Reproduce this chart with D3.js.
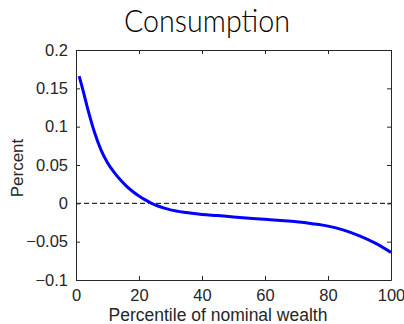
<!DOCTYPE html>
<html>
<head>
<meta charset="utf-8">
<script src="https://cdn.jsdelivr.net/npm/d3@7"></script>
<style>
  body { margin: 0; background: #fff; }
  svg text { fill: #262626; }
</style>
</head>
<body>
<svg id="chart" width="404" height="324"></svg>
<script>
var width = 404;
var height = 324;

// percentile of nominal wealth vs consumption response (percent)
var percentile = [1, 2, 4, 6, 8, 10, 12, 14, 16, 18, 20, 22, 24, 26, 28, 30,
  35, 40, 45, 50, 55, 60, 65, 70, 75, 80, 85, 90, 95, 100];
var consumption = [0.166, 0.151, 0.119, 0.091, 0.069, 0.053, 0.041, 0.031, 0.0225, 0.0155,
  0.0095, 0.0045, 0.0, -0.0035, -0.0063, -0.0085,
  -0.012, -0.0145, -0.016, -0.0177, -0.0193, -0.0208, -0.0223, -0.024, -0.0265,
  -0.0297, -0.035, -0.0425, -0.052, -0.064];

var xTicks = [0, 20, 40, 60, 80, 100];
var yTicks = [-0.1, -0.05, 0, 0.05, 0.1, 0.15, 0.2];

var margin = {left: 76, right: 13, top: 50, bottom: 44};

var svg = d3.select("#chart");

var x = d3.scaleLinear()
  .domain([0, 100])
  .range([margin.left, width - margin.right]);

var y = d3.scaleLinear()
  .domain([-0.1, 0.2])
  .range([height - margin.bottom, margin.top]);

var axisColor = "#262626";

// zero line
svg.append("line")
  .attr("x1", x(0)).attr("x2", x(100))
  .attr("y1", y(0)).attr("y2", y(0))
  .attr("stroke", "#000")
  .attr("stroke-width", 1)
  .attr("stroke-dasharray", "5,3");

// curve
var line = d3.line()
  .x(function(d, i) { return x(percentile[i]); })
  .y(function(d) { return y(d); })
  .curve(d3.curveMonotoneX);

svg.append("path")
  .datum(consumption)
  .attr("d", line)
  .attr("fill", "none")
  .attr("stroke", "#0000ff")
  .attr("stroke-width", 3);

// axes (ticks pointing inward, box on)
function styleAxis(g) {
  g.select(".domain").attr("stroke", axisColor);
  g.selectAll(".tick line").attr("stroke", axisColor);
  g.selectAll(".tick text")
    .attr("font-family", "Liberation Sans, Arial, sans-serif")
    .attr("font-size", "16.5px")
    .attr("fill", axisColor);
}

var fmt = function(d) { return d3.format("~g")(+d.toFixed(2)); };

svg.append("g")
  .attr("transform", "translate(0," + y(-0.1) + ")")
  .call(d3.axisBottom(x).tickValues(xTicks).tickSizeInner(-4).tickSizeOuter(0).tickPadding(9))
  .call(styleAxis);

svg.append("g")
  .attr("transform", "translate(" + x(0) + ",0)")
  .call(d3.axisLeft(y).tickValues(yTicks).tickFormat(fmt).tickSizeInner(-4).tickSizeOuter(0).tickPadding(8))
  .call(styleAxis);

svg.append("g")
  .attr("transform", "translate(0," + y(0.2) + ")")
  .call(d3.axisTop(x).tickValues(xTicks).tickFormat("").tickSizeInner(-4).tickSizeOuter(0))
  .call(styleAxis);

svg.append("g")
  .attr("transform", "translate(" + x(100) + ",0)")
  .call(d3.axisRight(y).tickValues(yTicks).tickFormat("").tickSizeInner(-4).tickSizeOuter(0))
  .call(styleAxis);

// labels
svg.append("text")
  .attr("x", 218)
  .attr("y", 321)
  .attr("text-anchor", "middle")
  .attr("font-family", "Liberation Sans, Arial, sans-serif")
  .attr("font-size", "17.5px")
  .text("Percentile of nominal wealth");

svg.append("text")
  .attr("transform", "translate(23,168) rotate(-90)")
  .attr("text-anchor", "middle")
  .attr("font-family", "Liberation Sans, Arial, sans-serif")
  .attr("font-size", "17px")
  .text("Percent");

svg.append("text")
  .attr("x", 207)
  .attr("y", 32)
  .attr("text-anchor", "middle")
  .attr("font-family", "Lato, sans-serif")
  .attr("font-weight", 300)
  .attr("font-size", "32px")
  .attr("textLength", 166)
  .attr("lengthAdjust", "spacingAndGlyphs")
  .style("fill", "#000")
  .text("Consumption");
</script>
</body>
</html>
